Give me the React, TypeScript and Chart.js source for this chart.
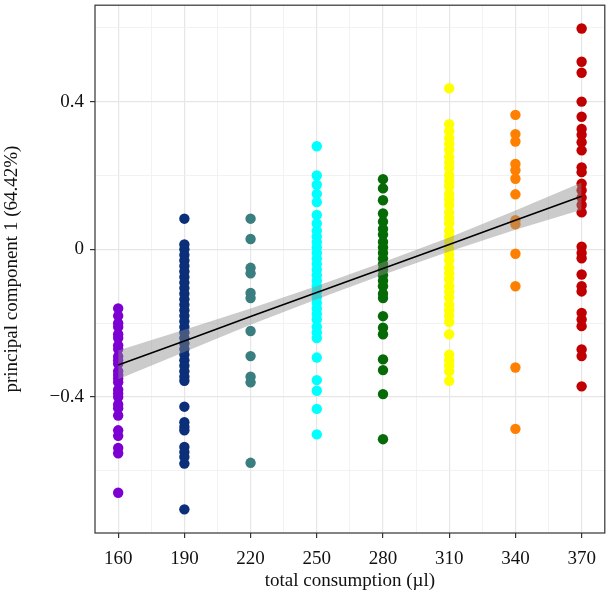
import React, { useEffect, useRef } from "react";
import { Chart, registerables } from "chart.js";

Chart.register(...registerables);

const categories = [160, 190, 220, 250, 280, 310, 340, 370];
const xMinorTicks = [175, 205, 235, 265, 295, 325, 355];
const yMajorTicks = [-0.4, 0, 0.4];
const yTickLabels = ["\u22120.4", "0", "0.4"];
const yMinorTicks = [-0.6, -0.2, 0.2, 0.6];
const xRange = [149.5, 380.5];
const yRange = [-0.768, 0.661];

const s160 = [-0.16, -0.18, -0.2, -0.21, -0.23, -0.24, -0.26, -0.27, -0.29, -0.3, -0.31, -0.33, -0.34, -0.35, -0.36, -0.38, -0.39, -0.4, -0.42, -0.43, -0.45, -0.49, -0.505, -0.538, -0.552, -0.659];
const s190 = [0.083, 0.013, 0.0, -0.015, -0.03, -0.045, -0.06, -0.075, -0.09, -0.105, -0.12, -0.135, -0.15, -0.165, -0.18, -0.195, -0.21, -0.225, -0.24, -0.255, -0.27, -0.285, -0.3, -0.315, -0.33, -0.345, -0.356, -0.426, -0.468, -0.481, -0.49, -0.535, -0.549, -0.562, -0.58, -0.704];
const s220 = [0.083, 0.028, -0.05, -0.065, -0.118, -0.132, -0.221, -0.289, -0.345, -0.36, -0.578];
const s250 = [0.279, 0.2, 0.175, 0.15, 0.128, 0.093, 0.07, 0.05, 0.035, 0.02, 0.005, -0.01, -0.025, -0.04, -0.055, -0.07, -0.085, -0.1, -0.115, -0.13, -0.145, -0.16, -0.175, -0.19, -0.21, -0.225, -0.24, -0.293, -0.354, -0.383, -0.432, -0.501];
const s280 = [0.19, 0.165, 0.133, 0.097, 0.075, 0.055, 0.04, 0.02, 0.005, -0.01, -0.025, -0.04, -0.055, -0.07, -0.085, -0.1, -0.12, -0.132, -0.181, -0.212, -0.23, -0.298, -0.327, -0.392, -0.514];
const s310 = [0.436, 0.339, 0.32, 0.3, 0.285, 0.27, 0.25, 0.235, 0.22, 0.2, 0.185, 0.17, 0.15, 0.135, 0.12, 0.1, 0.085, 0.07, 0.05, 0.035, 0.02, 0.0, -0.015, -0.03, -0.05, -0.065, -0.08, -0.1, -0.115, -0.13, -0.15, -0.165, -0.18, -0.197, -0.23, -0.285, -0.3, -0.315, -0.33, -0.356];
const s340 = [0.364, 0.312, 0.292, 0.231, 0.214, 0.191, 0.149, 0.079, 0.068, -0.012, -0.1, -0.32, -0.486];
const s370 = [0.598, 0.508, 0.478, 0.4, 0.359, 0.326, 0.31, 0.29, 0.268, 0.222, 0.209, 0.178, 0.16, 0.14, 0.12, 0.1, 0.007, -0.01, -0.024, -0.068, -0.1, -0.114, -0.172, -0.19, -0.208, -0.271, -0.289, -0.371];

const seriesValues = [s160, s190, s220, s250, s280, s310, s340, s370];
const seriesColors = ["#7D00D2", "#0B2F78", "#3A7E80", "#00FFFF", "#066B06", "#FFFF00", "#FF8000", "#C00000"];

const fitY = [-0.313, -0.248, -0.182, -0.117, -0.052, 0.013, 0.079, 0.144];
const bandUpper = [-0.274, -0.218, -0.16, -0.099, -0.035, 0.032, 0.105, 0.181];
const bandLower = [-0.352, -0.278, -0.204, -0.135, -0.069, -0.006, 0.053, 0.107];

const FONT = "'Liberation Serif', 'Times New Roman', serif";

const near = (a: number, b: number) => Math.abs(a - b) < 1e-6;

export default function App() {
  const ref = useRef<HTMLCanvasElement | null>(null);

  useEffect(() => {
    if (!ref.current) return;
    const pointSets = seriesValues.map((vals, i) => ({
      type: "scatter" as const,
      label: String(categories[i]),
      data: vals.map((v) => ({ x: categories[i], y: v })),
      backgroundColor: seriesColors[i],
      borderColor: seriesColors[i],
      borderWidth: 0,
      pointRadius: 5.2,
      order: 3,
    }));
    const panelBorder = {
      id: "panelBorder",
      afterDraw(chart: any) {
        const { ctx, chartArea } = chart;
        ctx.save();
        ctx.strokeStyle = "#333333";
        ctx.lineWidth = 1.2;
        ctx.strokeRect(chartArea.left, chartArea.top, chartArea.right - chartArea.left, chartArea.bottom - chartArea.top);
        ctx.restore();
      },
    };
    const chart = new Chart(ref.current, {
      type: "scatter",
      data: {
        datasets: [
          {
            type: "line" as const,
            label: "fit",
            data: categories.map((c, i) => ({ x: c, y: fitY[i] })),
            borderColor: "#000000",
            borderWidth: 1.6,
            pointRadius: 0,
            fill: false,
            order: 0,
          },
          {
            type: "line" as const,
            label: "upper",
            data: categories.map((c, i) => ({ x: c, y: bandUpper[i] })),
            borderWidth: 0,
            borderColor: "rgba(0,0,0,0)",
            backgroundColor: "rgba(140,140,140,0.45)",
            pointRadius: 0,
            fill: "+1",
            order: 1,
          },
          {
            type: "line" as const,
            label: "lower",
            data: categories.map((c, i) => ({ x: c, y: bandLower[i] })),
            borderWidth: 0,
            borderColor: "rgba(0,0,0,0)",
            pointRadius: 0,
            fill: false,
            order: 2,
          },
          ...pointSets,
        ] as any,
      },
      options: {
        animation: false,
        responsive: false,
        layout: { padding: { top: 2, right: 3, left: 0, bottom: 0 } },
        plugins: { legend: { display: false }, tooltip: { enabled: false } },
        scales: {
          x: {
            type: "linear",
            min: xRange[0],
            max: xRange[1],
            afterBuildTicks: (scale: any) => {
              scale.ticks = [...categories, ...xMinorTicks].sort((a, b) => a - b).map((v) => ({ value: v }));
            },
            afterFit: (scale: any) => {
              scale.height = 67;
              scale.paddingLeft = 0;
              scale.paddingRight = 0;
            },
            border: { display: false },
            grid: {
              color: (ctx: any) => (categories.includes(ctx.tick?.value) ? "#e6e6e6" : "#efefef"),
              lineWidth: (ctx: any) => (categories.includes(ctx.tick?.value) ? 1.2 : 0.8),
              tickColor: (ctx: any) => (categories.includes(ctx.tick?.value) ? "#333333" : "rgba(0,0,0,0)"),
              tickLength: 5,
              tickWidth: 1.2,
            },
            ticks: {
              autoSkip: false,
              maxRotation: 0,
              padding: 10,
              color: "#111111",
              font: { family: FONT, size: 19 },
              callback: (v: any) => (categories.includes(Number(v)) ? String(v) : ""),
            },
            title: {
              display: true,
              text: "total consumption (\u00b5l)",
              color: "#111111",
              font: { family: FONT, size: 19 },
              padding: { top: 0, bottom: 8 },
            },
          },
          y: {
            type: "linear",
            min: yRange[0],
            max: yRange[1],
            afterBuildTicks: (scale: any) => {
              scale.ticks = [...yMajorTicks, ...yMinorTicks].sort((a, b) => a - b).map((v) => ({ value: v }));
            },
            afterFit: (scale: any) => {
              scale.width = 95;
              scale.paddingTop = 0;
              scale.paddingBottom = 0;
            },
            border: { display: false },
            grid: {
              color: (ctx: any) => (yMajorTicks.some((t) => near(t, ctx.tick?.value)) ? "#e6e6e6" : "#efefef"),
              lineWidth: (ctx: any) => (yMajorTicks.some((t) => near(t, ctx.tick?.value)) ? 1.2 : 0.8),
              tickColor: (ctx: any) => (yMajorTicks.some((t) => near(t, ctx.tick?.value)) ? "#333333" : "rgba(0,0,0,0)"),
              tickLength: 5,
              tickWidth: 1.2,
            },
            ticks: {
              autoSkip: false,
              padding: 6,
              color: "#111111",
              font: { family: FONT, size: 19 },
              callback: (v: any) => {
                const idx = yMajorTicks.findIndex((t) => near(t, Number(v)));
                return idx >= 0 ? yTickLabels[idx] : "";
              },
            },
            title: {
              display: true,
              text: "principal component 1 (64.42%)",
              color: "#111111",
              font: { family: FONT, size: 19 },
              padding: { top: 1, bottom: 0 },
            },
          },
        },
      },
      plugins: [panelBorder],
    });
    return () => chart.destroy();
  }, []);

  return (
    <div style={{ position: "absolute", left: 0, top: 0, width: 610, height: 600, background: "#ffffff" }}>
      <canvas ref={ref} width={610} height={600} />
    </div>
  );
}
